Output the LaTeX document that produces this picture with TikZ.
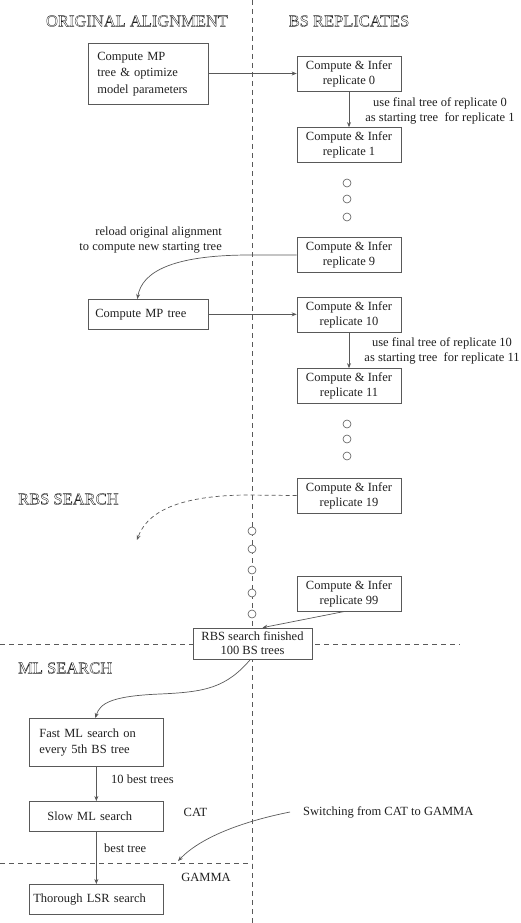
\documentclass[tikz,border=0pt]{standalone}
\usepackage{fontspec}
\setmainfont{Liberation Serif}
\usetikzlibrary{arrows.meta}
\definecolor{lg}{gray}{0.35}
\definecolor{tx}{gray}{0.12}
\newcommand{\outlinetxt}[1]{\special{pdf:literal direct 1 Tr 0.35 w}#1\special{pdf:literal direct 0 Tr}}
\tikzset{
  txt/.style={text=tx, inner sep=0pt, font=\fontsize{12.5}{15}\selectfont},
  heading/.style={text=tx, inner sep=0pt, font=\fontsize{16.5}{18}\selectfont},
  repbox/.style={draw=lg, line width=0.7pt, text=tx, font=\fontsize{12.5}{15}\selectfont,
    minimum width=104pt, minimum height=35pt, inner sep=0pt, align=center},
  lbox/.style={draw=lg, line width=0.7pt, text=tx, font=\fontsize{12.5}{16.5}\selectfont,
    inner ysep=0pt, align=left, anchor=north west},
  dotc/.style={circle, draw=lg, fill=white, line width=0.6pt, minimum size=8pt, inner sep=0pt},
  arr/.style={draw=lg, line width=0.7pt, -{Stealth[length=5pt,width=4pt]}},
  divider/.style={draw=lg, line width=0.8pt, dash pattern=on 5pt off 4pt}
}
\begin{document}
\begin{tikzpicture}[x=1pt,y=-1pt]
\useasboundingbox (0,0) rectangle (520,923);
% dividers
\draw[divider] (252,0) -- (252,923);
\draw[divider] (0,644) -- (460,644);
\draw[divider] (0,863) -- (252,863);
% headings
\node[heading] (h1) at (137,21) {\outlinetxt{ORIGINAL ALIGNMENT}};
\node[heading] (h2) at (349,21) {\outlinetxt{BS REPLICATES}};
\node[heading, anchor=west] (h3) at (18,499) {\outlinetxt{RBS SEARCH}};
\node[heading, anchor=west] (h4) at (18,668) {\outlinetxt{ML SEARCH}};
% left boxes
\node[lbox, inner xsep=9pt, text width=102pt, minimum height=61pt] (mp1) at (88,43) {Compute MP\\tree \& optimize\\model parameters};
\node[lbox, inner xsep=7pt, text width=106pt, minimum height=30pt] (mpt) at (88,299) {Compute MP tree};
% replicate boxes
\node[repbox] (r0) at (349,73.5) {Compute \& Infer\\replicate 0};
\node[repbox] (r1) at (349,145) {Compute \& Infer\\replicate 1};
\node[repbox] (r9) at (349,255) {Compute \& Infer\\replicate 9};
\node[repbox] (r10) at (349,314.5) {Compute \& Infer\\replicate 10};
\node[repbox] (r11) at (349,386) {Compute \& Infer\\replicate 11};
\node[repbox] (r19) at (349,495.5) {Compute \& Infer\\replicate 19};
\node[repbox] (r99) at (349,593.5) {Compute \& Infer\\replicate 99};
% dots
\node[dotc] (d1) at (347,183) {};
\node[dotc] (d2) at (347,199) {};
\node[dotc] (d3) at (347,217) {};
\node[dotc] (d4) at (347,424) {};
\node[dotc] (d5) at (347,439) {};
\node[dotc] (d6) at (347,456) {};
\node[dotc] (d7) at (252,531) {};
\node[dotc] (d8) at (252,549) {};
\node[dotc] (d9) at (252,570) {};
\node[dotc] (d10) at (252,593) {};
\node[dotc] (d11) at (252,614) {};
% RBS finished
\node[draw=lg, line width=0.7pt, fill=white, text=tx, font=\fontsize{12.5}{14}\selectfont,
  minimum width=119pt, minimum height=31pt, inner sep=0pt, align=center] (rbs) at (252.5,643.5)
  {RBS search finished\\100 BS trees};
% ML boxes
\node[lbox, inner xsep=10pt, text width=114pt, minimum height=48pt] (fast) at (29,718) {Fast ML search on\\every 5th BS tree};
\node[lbox, inner xsep=18pt, text width=98pt, minimum height=30pt] (slow) at (29,801) {Slow ML search};
\node[lbox, inner xsep=4pt, text width=126pt, minimum height=30pt] (lsr) at (29,884) {Thorough LSR search};
% labels
\node[txt, align=center] (l0) at (440,110.5) {use final tree of replicate 0\\as starting tree\ \ for replicate 1};
\node[txt, align=center] (l10) at (442,350.5) {use final tree of replicate 10\\as starting tree\ \ for replicate 11};
\node[txt, align=right, anchor=east] (lrel) at (222,240.5) {reload original alignment\\to compute new starting tree};
\node[txt, anchor=west] (lbest10) at (111,779) {10 best trees};
\node[txt, anchor=west] (lbest) at (104,848) {best tree};
\node[txt] (lcat) at (195.5,812) {CAT};
\node[txt] (lgam) at (206,877) {GAMMA};
\node[txt, anchor=west] (lsw) at (303,812) {Switching from CAT to GAMMA};
\coordinate (rbsend) at (137,540);
% connectors
\draw[arr] (mp1.east |- r0.west) -- (r0.west);
\draw[arr] (r0.south) -- (r1.north);
\draw[arr] (r9.west) -- (250,255) .. controls (172,255) and (142,272) .. ([xshift=-11pt]mpt.north);
\draw[arr] (mpt.east) -- (mpt.east -| r10.west);
\draw[arr] (r10.south) -- (r11.north);
\draw[arr, dash pattern=on 4pt off 3pt] (r19.west) -- (245,495) .. controls (172,496) and (146,515) .. (rbsend);
\draw[arr] ([xshift=-4pt]r99.south) -- ([xshift=10pt]rbs.north);
\draw[arr] ([xshift=-2pt]rbs.south) .. controls (226,688) and (205,692) .. (160,694) .. controls (112,696) and (100,703) .. ([xshift=-1pt]fast.north);
\draw[arr] (fast.south) -- (slow.north);
\draw[arr] (slow.south) -- (lsr.north);
\draw[arr] ([xshift=-13pt]lsw.west) .. controls (240,822) and (200,838) .. (178,861);
\end{tikzpicture}
\end{document}
